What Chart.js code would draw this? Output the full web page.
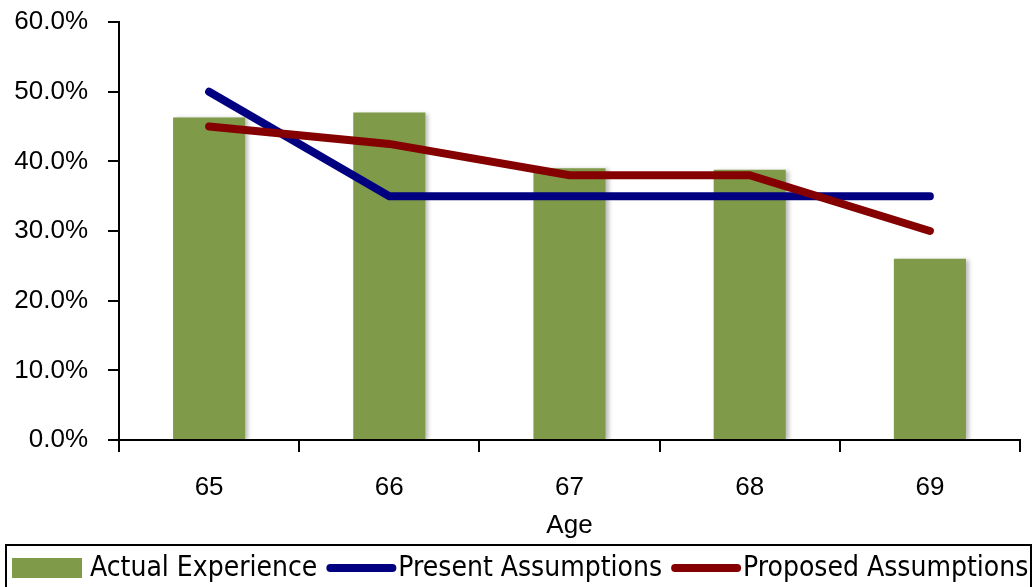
<!DOCTYPE html>
<html>
<head>
<meta charset="utf-8">
<script src="https://cdn.jsdelivr.net/npm/chart.js@4"></script>
<style>
  html, body { margin: 0; padding: 0; background: #fff; }
  #wrap { width: 1035px; height: 587px; }
</style>
</head>
<body>
<div id="wrap"><canvas id="chart" width="1035" height="587"></canvas></div>
<script>
const ages = ["65", "66", "67", "68", "69"];
const actualExperience = [46.3, 47.0, 39.0, 38.8, 26.0];
const presentAssumptions = [50.0, 35.0, 35.0, 35.0, 35.0];
const proposedAssumptions = [45.0, 42.5, 38.0, 38.0, 30.0];
const yTicks = [0, 10, 20, 30, 40, 50, 60];

const tickFont = { family: "'Liberation Sans', Arial, sans-serif", size: 26 };
const legendFontCss = "28px 'Liberation Sans Narrow', 'DejaVu Sans Condensed', sans-serif";

// draw a soft shadow behind the bars, like the spreadsheet chart
const barShadow = {
  id: "barShadow",
  beforeDatasetDraw(chart, args) {
    if (args.index !== 0) return;
    const ctx = chart.ctx;
    ctx.save();
    ctx.shadowColor = "rgba(0,0,0,0.25)";
    ctx.shadowBlur = 4;
    ctx.shadowOffsetX = 3;
    ctx.shadowOffsetY = 1;
  },
  afterDatasetDraw(chart, args) {
    if (args.index !== 0) return;
    chart.ctx.restore();
  }
};

// boxed legend in one row along the bottom edge
const boxLegend = {
  id: "boxLegend",
  afterDraw(chart) {
    const ctx = chart.ctx;
    const top = 545;
    const cy = 568;
    ctx.save();
    ctx.strokeStyle = "#000";
    ctx.lineWidth = 2;
    ctx.strokeRect(6, top, chart.width - 10, 60);
    ctx.font = legendFontCss;
    ctx.textBaseline = "middle";
    let x = 12;
    chart.data.datasets.forEach(ds => {
      if (ds.type === "line") {
        ctx.strokeStyle = ds.borderColor;
        ctx.lineWidth = 8;
        ctx.lineCap = "round";
        ctx.beginPath();
        ctx.moveTo(x + 4, cy);
        ctx.lineTo(x + 66, cy);
        ctx.stroke();
        x += 72;
      } else {
        ctx.fillStyle = ds.backgroundColor;
        ctx.fillRect(x, cy - 10, 70, 20);
        x += 78;
      }
      ctx.fillStyle = "#000";
      ctx.fillText(ds.label, x, cy + 1);
      x += ctx.measureText(ds.label).width + 9;
    });
    ctx.restore();
  }
};

new Chart(document.getElementById("chart"), {
  type: "bar",
  data: {
    labels: ages,
    datasets: [
      {
        type: "bar",
        label: "Actual Experience",
        data: actualExperience,
        backgroundColor: "#7F9A48",
        borderWidth: 0,
        barPercentage: 0.4,
        categoryPercentage: 1,
        order: 3
      },
      {
        type: "line",
        label: "Present Assumptions",
        data: presentAssumptions,
        borderColor: "#000080",
        backgroundColor: "#000080",
        borderWidth: 8,
        pointRadius: 0,
        tension: 0,
        borderCapStyle: "round",
        order: 2
      },
      {
        type: "line",
        label: "Proposed Assumptions",
        data: proposedAssumptions,
        borderColor: "#850000",
        backgroundColor: "#850000",
        borderWidth: 8,
        pointRadius: 0,
        tension: 0,
        borderCapStyle: "round",
        order: 1
      }
    ]
  },
  options: {
    responsive: false,
    animation: false,
    layout: { padding: { left: 0, right: 15, top: 22, bottom: 42 } },
    scales: {
      x: {
        grid: { drawOnChartArea: false, drawTicks: true, tickLength: 12, color: "#000", lineWidth: 2 },
        border: { color: "#000", width: 2 },
        ticks: { font: tickFont, color: "#000", padding: 20 },
        title: { display: true, text: "Age", font: tickFont, color: "#000", padding: { top: 2 } },
        afterFit(scale) { scale.height = 105; scale.paddingLeft = 0; scale.paddingRight = 0; }
      },
      y: {
        min: 0,
        max: 60,
        afterBuildTicks(scale) { scale.ticks = yTicks.map(v => ({ value: v })); },
        grid: { drawOnChartArea: false, drawTicks: true, tickLength: 11, color: "#000", lineWidth: 2 },
        border: { color: "#000", width: 2 },
        ticks: {
          font: tickFont,
          color: "#000",
          padding: 20,
          callback: v => v.toFixed(1) + "%"
        },
        afterFit(scale) { scale.width = 119; scale.paddingTop = 0; scale.paddingBottom = 0; }
      }
    },
    plugins: {
      legend: { display: false },
      tooltip: { enabled: false }
    }
  },
  plugins: [barShadow, boxLegend]
});
</script>
</body>
</html>
